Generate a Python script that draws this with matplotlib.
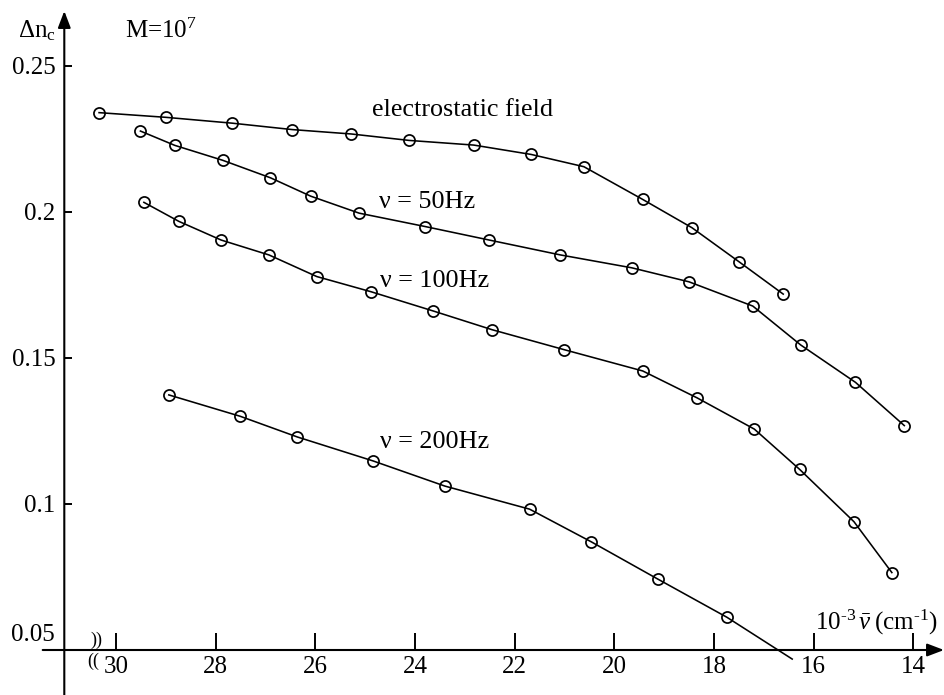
import matplotlib
matplotlib.use('Agg')
import matplotlib.pyplot as plt

# ---------------- data ----------------
es_x = [30.34, 29.00, 27.67, 26.46, 25.28, 24.12, 22.82, 21.67, 20.61, 19.43, 18.44, 17.50, 16.61]
es_y = [0.2339, 0.2323, 0.2303, 0.2281, 0.2266, 0.2244, 0.2228, 0.2196, 0.2154, 0.2042, 0.1945, 0.1829, 0.1718]

f50_x = [29.51, 28.82, 27.86, 26.90, 26.09, 25.12, 23.79, 22.51, 21.08, 19.65, 18.50, 17.22, 16.26, 15.16, 14.18]
f50_y = [0.2276, 0.2227, 0.2176, 0.2116, 0.2053, 0.1995, 0.1949, 0.1903, 0.1852, 0.1808, 0.1760, 0.1677, 0.1544, 0.1416, 0.1268]

f100_x = [29.44, 28.74, 27.89, 26.93, 25.97, 24.88, 23.63, 22.45, 21.01, 19.43, 18.34, 17.19, 16.28, 15.19, 14.43]
f100_y = [0.2032, 0.1967, 0.1903, 0.1852, 0.1778, 0.1726, 0.1660, 0.1596, 0.1528, 0.1455, 0.1363, 0.1256, 0.1118, 0.0939, 0.0765]

f200_x = [28.94, 27.51, 26.36, 24.84, 23.40, 21.70, 20.46, 19.13, 17.74]
f200_y = [0.1373, 0.1300, 0.1229, 0.1147, 0.1061, 0.0982, 0.0870, 0.0743, 0.0612]
# the 200 Hz curve is drawn on past its last measured point
f200_line_end_x = 16.43
f200_line_end_y = 0.0469

x_ticks = [30, 28, 26, 24, 22, 20, 18, 16, 14]
x_tick_labels = ['30', '28', '26', '24', '22', '20', '18', '16', '14']
y_ticks = [0.1, 0.15, 0.2, 0.25]
y_tick_labels = ['0.1', '0.15', '0.2', '0.25']
y_base = 0.05
y_base_label = '0.05'

series_labels = ['electrostatic field', 'ν = 50Hz', 'ν = 100Hz', 'ν = 200Hz']
x_label = r'$\mathrm{10^{\text{-}3}}\,\bar{\nu}\;\mathrm{(cm^{\text{-}1})}$'

# ---------------- style ----------------
plt.rcParams['font.family'] = ['Liberation Serif', 'DejaVu Serif']
plt.rcParams['mathtext.fontset'] = 'custom'
plt.rcParams['mathtext.rm'] = 'Liberation Serif'
plt.rcParams['mathtext.it'] = 'Liberation Serif:italic'
plt.rcParams['mathtext.bf'] = 'Liberation Serif:bold'

FS = 18
FS_LAB = 18.8

def px2x(px):
    return 30 - (px - 116) / 49.83

def py2y(py):
    return 0.05 + (650 - py) / 2922.0

fig = plt.figure(figsize=(9.45, 6.95), dpi=100)
ax = fig.add_axes([0, 0, 1, 1])
ax.set_xlim(px2x(0), px2x(945))
ax.set_ylim(py2y(695), py2y(0))
ax.patch.set_visible(False)

yaxis_x = px2x(64.3)

for s in ax.spines.values():
    s.set_visible(False)
ax.spines['left'].set_position(('data', yaxis_x))
ax.spines['bottom'].set_position(('data', y_base))

ax.set_xticks(x_ticks)
ax.set_xticklabels(x_tick_labels)
ax.set_yticks(y_ticks)
ax.set_yticklabels(y_tick_labels)
ax.tick_params(axis='x', direction='in', length=12.2, width=1.4, pad=4,
               labelsize=FS, top=False)
ax.tick_params(axis='y', direction='in', length=5.8, width=1.4, pad=6.5,
               labelsize=FS, right=False)

# axis lines with arrowheads
arrow = dict(arrowstyle='-|>,head_length=0.42,head_width=0.16', lw=1.5,
             color='black', mutation_scale=24, shrinkA=0, shrinkB=0)
ax.annotate('', xy=(px2x(944), y_base), xytext=(px2x(42.7), y_base),
            arrowprops=arrow, annotation_clip=False)
ax.annotate('', xy=(yaxis_x, py2y(11)), xytext=(yaxis_x, py2y(695)),
            arrowprops=arrow, annotation_clip=False)

mk = dict(color='black', lw=1.15, marker='o', ms=8, mfc='none', mec='black', mew=1.25)
ax.plot(es_x, es_y, **mk)
ax.plot(f50_x, f50_y, **mk)
ax.plot(f100_x, f100_y, **mk)
ax.plot(f200_x + [f200_line_end_x], f200_y + [f200_line_end_y],
        markevery=list(range(len(f200_x))), **mk)

# curve labels
ax.text(px2x(372), py2y(116), series_labels[0], fontsize=FS_LAB, ha='left', va='baseline')
ax.text(px2x(379), py2y(208), series_labels[1], fontsize=FS_LAB, ha='left', va='baseline')
ax.text(px2x(380), py2y(287), series_labels[2], fontsize=FS_LAB, ha='left', va='baseline')
ax.text(px2x(380), py2y(448), series_labels[3], fontsize=FS_LAB, ha='left', va='baseline')

# annotations
ax.text(px2x(125), py2y(38), r'M=10$^{7}$', fontsize=FS, ha='left', va='baseline')
ax.text(px2x(18), py2y(37), r'Δn$_{\mathrm{c}}$', fontsize=FS, ha='left', va='baseline')
ax.text(px2x(55), py2y(635), y_base_label, fontsize=FS, ha='right', va='center')
ax.text(px2x(938), py2y(630), x_label, fontsize=FS, ha='right', va='baseline')

# axis break marks
ax.text(px2x(96), py2y(640), '))', fontsize=13, ha='center', va='center')
ax.text(px2x(93), py2y(661), '((', fontsize=13, ha='center', va='center')

fig.savefig('out.png', dpi=100)
